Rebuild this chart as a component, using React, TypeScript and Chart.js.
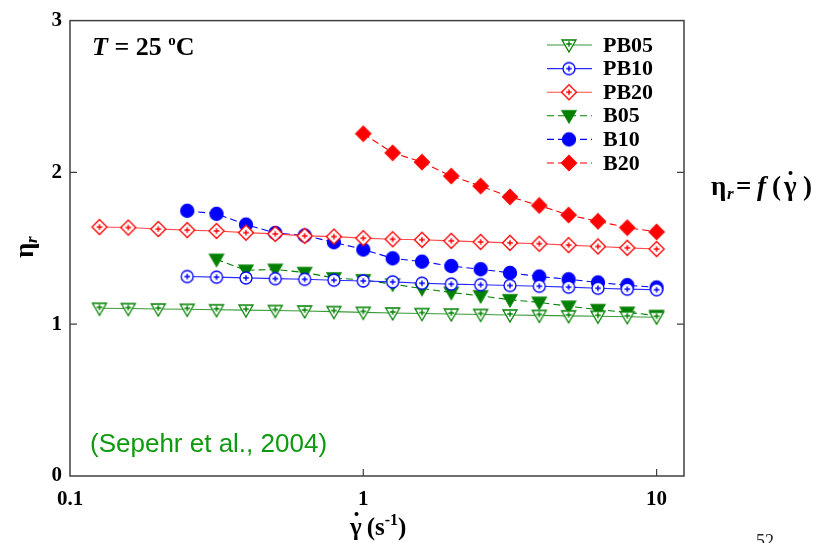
import React, { useEffect, useRef } from "react";
import { Chart, registerables } from "chart.js";

Chart.register(...registerables);

// ---- data ----
const xFrom0126 = [0.126, 0.158, 0.2, 0.251, 0.316, 0.398, 0.501, 0.631, 0.794, 1, 1.259, 1.585, 1.995, 2.512, 3.162, 3.981, 5.012, 6.31, 7.943, 10];
const xFrom0251 = [0.251, 0.316, 0.398, 0.501, 0.631, 0.794, 1, 1.259, 1.585, 1.995, 2.512, 3.162, 3.981, 5.012, 6.31, 7.943, 10];
const xFrom0316 = [0.316, 0.398, 0.501, 0.631, 0.794, 1, 1.259, 1.585, 1.995, 2.512, 3.162, 3.981, 5.012, 6.31, 7.943, 10];
const xFrom1 = [1, 1.259, 1.585, 1.995, 2.512, 3.162, 3.981, 5.012, 6.31, 7.943, 10];

const pb05 = [1.105, 1.103, 1.1, 1.098, 1.095, 1.093, 1.09, 1.087, 1.083, 1.078, 1.074, 1.07, 1.067, 1.064, 1.061, 1.058, 1.055, 1.052, 1.049, 1.046];
const pb10 = [1.314, 1.31, 1.305, 1.3, 1.296, 1.29, 1.285, 1.279, 1.27, 1.264, 1.26, 1.255, 1.25, 1.244, 1.237, 1.231, 1.227];
const pb20 = [1.64, 1.637, 1.627, 1.62, 1.614, 1.603, 1.595, 1.582, 1.577, 1.567, 1.56, 1.556, 1.549, 1.542, 1.536, 1.53, 1.521, 1.512, 1.503, 1.495];
const b05 = [1.427, 1.355, 1.361, 1.34, 1.305, 1.292, 1.264, 1.235, 1.209, 1.187, 1.161, 1.144, 1.118, 1.096, 1.078, 1.057];
const b10 = [1.747, 1.727, 1.656, 1.601, 1.584, 1.54, 1.492, 1.434, 1.412, 1.383, 1.362, 1.338, 1.314, 1.296, 1.275, 1.257, 1.242];
const b20 = [2.255, 2.129, 2.068, 1.976, 1.91, 1.839, 1.782, 1.719, 1.678, 1.636, 1.608];

const seriesNames = ["PB05", "PB10", "PB20", "B05", "B10", "B20"];
const xTickValues = [0.1, 1, 10];
const xTickLabels = ["0.1", "1", "10"];
const yTickValues = [0, 1, 2, 3];
const yTickLabels = ["0", "1", "2", "3"];

const SERIF = "'Liberation Serif', 'Times New Roman', serif";
const SANS = "'Liberation Sans', Arial, sans-serif";

function makeMarker(shape: string, color: string, filled: boolean) {
  const c = document.createElement("canvas");
  c.width = 18;
  c.height = 18;
  const g = c.getContext("2d")!;
  const m = 9;
  g.fillStyle = filled ? color : "#fff";
  g.strokeStyle = color;
  g.lineWidth = 1.3;
  g.beginPath();
  if (shape === "tri") {
    g.moveTo(m - 7, m - 5);
    g.lineTo(m + 7, m - 5);
    g.lineTo(m, m + 7);
    g.closePath();
  } else if (shape === "circle") {
    g.arc(m, m, filled ? 6.5 : 6, 0, Math.PI * 2);
  } else {
    g.moveTo(m, m - 7.5);
    g.lineTo(m + 7.5, m);
    g.lineTo(m, m + 7.5);
    g.lineTo(m - 7.5, m);
    g.closePath();
  }
  g.fill();
  g.stroke();
  if (!filled) {
    const cy = shape === "tri" ? m - 1 : m;
    g.lineWidth = 1.4;
    g.beginPath();
    g.moveTo(m - 2.8, cy);
    g.lineTo(m + 2.8, cy);
    g.moveTo(m, cy - 2.8);
    g.lineTo(m, cy + 2.8);
    g.stroke();
  }
  return c;
}

const pts = (xs: number[], ys: number[]) => xs.map((x, i) => ({ x, y: ys[i] }));

export default function App() {
  const ref = useRef<HTMLCanvasElement | null>(null);

  useEffect(() => {
    if (!ref.current) return;
    const green = "#008000";
    const blue = "#0000ff";
    const red = "#ff0000";
    const markers = [
      makeMarker("tri", green, false),
      makeMarker("circle", blue, false),
      makeMarker("diamond", red, false),
      makeMarker("tri", green, true),
      makeMarker("circle", blue, true),
      makeMarker("diamond", red, true),
    ];
    const lineColors = ["#3a9a3a", "#2a2aff", "#ff4a4a", green, blue, red];
    const dataSets = [
      pts(xFrom0126, pb05),
      pts(xFrom0251, pb10),
      pts(xFrom0126, pb20),
      pts(xFrom0316, b05),
      pts(xFrom0251, b10),
      pts(xFrom1, b20),
    ];
    const datasets = dataSets.map((d, i) => ({
      label: seriesNames[i],
      data: d,
      borderColor: lineColors[i],
      backgroundColor: lineColors[i],
      borderWidth: 1.1,
      borderDash: i >= 3 ? [7, 4] : [],
      pointStyle: markers[i],
      pointRadius: 7,
      tension: 0,
      fill: false,
    }));

    const annot = {
      id: "annot",
      afterDraw(chart: any) {
        const ctx = chart.ctx;
        const { left, right, top, bottom } = chart.chartArea;
        const xs = chart.scales.x;
        const ys = chart.scales.y;
        ctx.save();
        // frame
        ctx.strokeStyle = "#404040";
        ctx.lineWidth = 1.5;
        ctx.setLineDash([]);
        ctx.strokeRect(left, top, right - left, bottom - top);
        // inward ticks
        ctx.lineWidth = 1.2;
        ctx.beginPath();
        xTickValues.forEach((v) => {
          const px = xs.getPixelForValue(v);
          if (px > left + 2 && px < right - 2) {
            ctx.moveTo(px, bottom);
            ctx.lineTo(px, bottom - 7);
          }
        });
        yTickValues.forEach((v) => {
          const py = ys.getPixelForValue(v);
          if (py > top + 2 && py < bottom - 2) {
            ctx.moveTo(left, py);
            ctx.lineTo(left + 7, py);
            ctx.moveTo(right, py);
            ctx.lineTo(right - 7, py);
          }
        });
        ctx.stroke();

        // legend
        ctx.textBaseline = "middle";
        datasets.forEach((ds, i) => {
          const y = 45 + 23.6 * i;
          ctx.strokeStyle = ds.borderColor;
          ctx.lineWidth = 1.1;
          ctx.setLineDash(ds.borderDash);
          ctx.beginPath();
          ctx.moveTo(547, y);
          ctx.lineTo(592, y);
          ctx.stroke();
          ctx.setLineDash([]);
          const mk = markers[i];
          ctx.drawImage(mk, 569 - mk.width / 2, y - mk.height / 2);
          ctx.fillStyle = "#000";
          ctx.font = `bold 22px ${SERIF}`;
          ctx.textAlign = "left";
          ctx.fillText(ds.label, 603, y + 1);
        });

        // T = 25 oC
        ctx.textBaseline = "alphabetic";
        ctx.fillStyle = "#000";
        let x = 92;
        const by = 55;
        ctx.font = `italic bold 26px ${SERIF}`;
        ctx.fillText("T", x, by);
        x += ctx.measureText("T").width;
        ctx.font = `bold 26px ${SERIF}`;
        ctx.fillText(" = 25 ", x, by);
        x += ctx.measureText(" = 25 ").width;
        ctx.font = `bold 15px ${SERIF}`;
        ctx.fillText("o", x, by - 10);
        x += ctx.measureText("o").width;
        ctx.font = `bold 26px ${SERIF}`;
        ctx.fillText("C", x, by);

        // citation
        ctx.fillStyle = "#0e9a0e";
        ctx.font = `26px ${SANS}`;
        ctx.fillText("(Sepehr et al., 2004)", 90, 452);

        // right formula  eta_r = f ( gamma-dot )
        ctx.fillStyle = "#000";
        const fy = 195;
        ctx.font = `bold 27px ${SERIF}`;
        ctx.fillText("\u03b7", 711, fy);
        ctx.font = `italic bold 17px ${SERIF}`;
        ctx.fillText("r", 727, fy + 4);
        ctx.font = `bold 27px ${SERIF}`;
        ctx.fillText("=", 736, fy);
        ctx.font = `italic bold 27px ${SERIF}`;
        ctx.fillText("f", 757, fy);
        ctx.font = `bold 27px ${SERIF}`;
        ctx.fillText("(", 772, fy);
        ctx.fillText("\u03b3", 784, fy);
        ctx.beginPath();
        ctx.arc(790.5, fy - 22, 2, 0, Math.PI * 2);
        ctx.fill();
        ctx.fillText(")", 803, fy);

        // x axis title  gamma-dot (s^-1)
        const ty = 535;
        ctx.font = `bold 25px ${SERIF}`;
        ctx.fillText("\u03b3", 350, ty);
        ctx.beginPath();
        ctx.arc(356.5, ty - 21, 2, 0, Math.PI * 2);
        ctx.fill();
        let tx = 350 + ctx.measureText("\u03b3").width + 5;
        ctx.fillText("(s", tx, ty);
        tx += ctx.measureText("(s").width;
        ctx.font = `bold 16px ${SERIF}`;
        ctx.fillText("-1", tx, ty - 10);
        tx += ctx.measureText("-1").width;
        ctx.font = `bold 25px ${SERIF}`;
        ctx.fillText(")", tx, ty);

        // y axis title  eta_r rotated
        ctx.save();
        ctx.translate(33, 258);
        ctx.rotate(-Math.PI / 2);
        ctx.font = `bold 27px ${SERIF}`;
        ctx.fillText("\u03b7", 0, 0);
        ctx.font = `italic bold 17px ${SERIF}`;
        ctx.fillText("r", 15, 4);
        ctx.restore();

        // page number
        ctx.fillStyle = "#222";
        ctx.font = `18px ${SERIF}`;
        ctx.fillText("52", 756, 547);
        ctx.restore();
      },
    };

    const chart = new Chart(ref.current, {
      type: "line",
      data: { datasets: datasets as any },
      options: {
        animation: false,
        responsive: true,
        maintainAspectRatio: false,
        layout: { padding: { top: 15, right: 138, left: 0, bottom: 0 } },
        plugins: { legend: { display: false }, tooltip: { enabled: false } },
        scales: {
          x: {
            type: "logarithmic",
            min: 0.1,
            max: 12.4,
            afterBuildTicks: (s: any) => {
              s.ticks = xTickValues.map((v) => ({ value: v }));
            },
            afterFit: (s: any) => {
              s.height = 67;
            },
            grid: { display: false, drawTicks: false },
            border: { display: false },
            ticks: {
              autoSkip: false,
              maxRotation: 0,
              padding: 11,
              color: "#000",
              font: { family: SERIF, weight: "bold", size: 21 },
              callback: (_v: any, i: number) => xTickLabels[i],
            },
          },
          y: {
            type: "linear",
            min: 0,
            max: 3,
            afterBuildTicks: (s: any) => {
              s.ticks = yTickValues.map((v) => ({ value: v }));
            },
            afterFit: (s: any) => {
              s.width = 70;
            },
            grid: { display: false, drawTicks: false },
            border: { display: false },
            ticks: {
              padding: 8,
              color: "#000",
              font: { family: SERIF, weight: "bold", size: 21 },
              callback: (_v: any, i: number) => yTickLabels[i],
            },
          },
        },
      } as any,
      plugins: [annot],
    });
    return () => chart.destroy();
  }, []);

  return (
    <div style={{ position: "fixed", left: 0, top: 0, width: 822, height: 543, background: "#fff" }}>
      <canvas ref={ref} />
    </div>
  );
}
